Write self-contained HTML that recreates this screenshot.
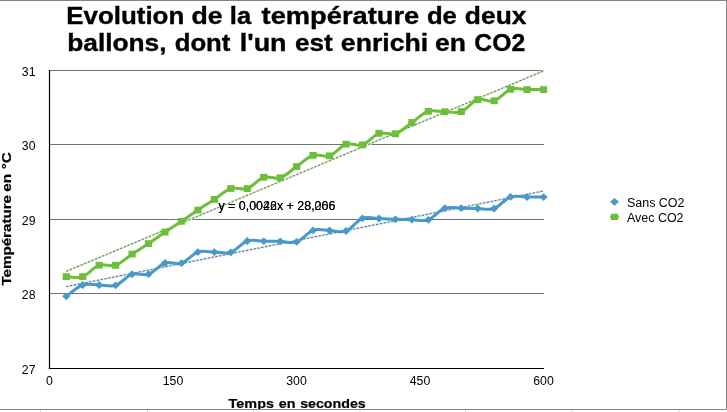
<!DOCTYPE html>
<html><head><meta charset="utf-8"><style>
html,body{margin:0;padding:0;background:#fff;width:727px;height:412px;overflow:hidden}
svg{display:block;font-family:"Liberation Sans",sans-serif;will-change:transform}
</style></head><body>
<svg width="727" height="412" viewBox="0 0 727 412">
<rect x="0" y="0" width="727" height="412" fill="#fff"/>
<line x1="49.5" y1="70.50" x2="544.0" y2="70.50" stroke="#727272" stroke-width="1"/>
<line x1="49.5" y1="144.50" x2="544.0" y2="144.50" stroke="#727272" stroke-width="1"/>
<line x1="49.5" y1="219.50" x2="544.0" y2="219.50" stroke="#727272" stroke-width="1"/>
<line x1="49.5" y1="293.50" x2="544.0" y2="293.50" stroke="#727272" stroke-width="1"/>
<line x1="49.5" y1="70" x2="49.5" y2="369" stroke="#000" stroke-width="1.2"/>
<line x1="48.9" y1="368.5" x2="544.0" y2="368.5" stroke="#000" stroke-width="1.2"/>
<line x1="66.26" y1="286.6" x2="543.55" y2="191.0" stroke="#dce9f3" stroke-width="2.4"/>
<line x1="66.26" y1="286.6" x2="543.55" y2="191.0" stroke="#34506c" stroke-width="0.85" stroke-dasharray="2.2,1.7"/>
<line x1="66.26" y1="271.4" x2="543.55" y2="70.9" stroke="#e0efd5" stroke-width="2.4"/>
<line x1="66.26" y1="271.4" x2="543.55" y2="70.9" stroke="#3d5530" stroke-width="0.85" stroke-dasharray="2.2,1.7"/>
<path d="M66.26,296.30 C69.00,294.42 77.23,286.88 82.72,285.00 C88.20,283.12 93.69,284.95 99.17,285.00 C104.66,285.05 110.15,287.10 115.63,285.30 C121.12,283.50 126.61,276.05 132.09,274.20 C137.58,272.35 143.06,276.07 148.55,274.20 C154.04,272.33 159.52,264.83 165.01,263.00 C170.49,261.17 175.98,265.02 181.47,263.20 C186.95,261.38 192.44,253.95 197.92,252.10 C203.41,250.25 208.90,252.07 214.38,252.10 C219.87,252.13 225.36,254.15 230.84,252.30 C236.33,250.45 241.81,242.85 247.30,241.00 C252.79,239.15 258.27,241.15 263.76,241.20 C269.24,241.25 274.73,241.20 280.22,241.30 C285.70,241.40 291.19,243.63 296.67,241.80 C302.16,239.97 307.65,232.18 313.13,230.30 C318.62,228.42 324.11,230.38 329.59,230.50 C335.08,230.62 340.56,233.03 346.05,231.00 C351.54,228.97 357.02,220.38 362.51,218.30 C367.99,216.22 373.48,218.33 378.97,218.50 C384.45,218.67 389.94,219.10 395.42,219.30 C400.91,219.50 406.40,219.62 411.88,219.70 C417.37,219.78 422.86,221.72 428.34,219.80 C433.83,217.88 439.31,210.13 444.80,208.20 C450.29,206.27 455.77,208.15 461.26,208.20 C466.74,208.25 472.23,208.45 477.72,208.50 C483.20,208.55 488.69,210.43 494.17,208.50 C499.66,206.57 505.15,198.80 510.63,196.90 C516.12,195.00 521.61,197.07 527.09,197.10 C532.58,197.13 540.81,197.10 543.55,197.10" fill="none" stroke="#4799ca" stroke-width="3" stroke-linejoin="round"/>
<path d="M66.26,276.60 C69.00,276.60 77.23,278.50 82.72,276.60 C88.20,274.70 93.69,267.08 99.17,265.20 C104.66,263.32 110.15,267.15 115.63,265.30 C121.12,263.45 126.61,257.72 132.09,254.10 C137.58,250.48 143.06,247.27 148.55,243.60 C154.04,239.93 159.52,235.82 165.01,232.10 C170.49,228.38 175.98,224.97 181.47,221.30 C186.95,217.63 192.44,213.75 197.92,210.10 C203.41,206.45 208.90,203.00 214.38,199.40 C219.87,195.80 225.36,190.30 230.84,188.50 C236.33,186.70 241.81,190.47 247.30,188.60 C252.79,186.73 258.27,179.10 263.76,177.30 C269.24,175.50 274.73,179.60 280.22,177.80 C285.70,176.00 291.19,170.25 296.67,166.50 C302.16,162.75 307.65,157.08 313.13,155.30 C318.62,153.52 324.11,157.65 329.59,155.80 C335.08,153.95 340.56,146.02 346.05,144.20 C351.54,142.38 357.02,146.72 362.51,144.90 C367.99,143.08 373.48,135.15 378.97,133.30 C384.45,131.45 389.94,135.60 395.42,133.80 C400.91,132.00 406.40,126.25 411.88,122.50 C417.37,118.75 422.86,113.10 428.34,111.30 C433.83,109.50 439.31,111.65 444.80,111.70 C450.29,111.75 455.77,113.62 461.26,111.60 C466.74,109.58 472.23,101.40 477.72,99.60 C483.20,97.80 488.69,102.52 494.17,100.80 C499.66,99.08 505.15,91.17 510.63,89.30 C516.12,87.43 521.61,89.55 527.09,89.60 C532.58,89.65 540.81,89.60 543.55,89.60" fill="none" stroke="#6dbe3a" stroke-width="3" stroke-linejoin="round"/>
<path d="M62.16,296.30 L66.26,292.40 L70.36,296.30 L66.26,300.20 Z" fill="#4799ca"/>
<path d="M78.62,285.00 L82.72,281.10 L86.82,285.00 L82.72,288.90 Z" fill="#4799ca"/>
<path d="M95.07,285.00 L99.17,281.10 L103.27,285.00 L99.17,288.90 Z" fill="#4799ca"/>
<path d="M111.53,285.30 L115.63,281.40 L119.73,285.30 L115.63,289.20 Z" fill="#4799ca"/>
<path d="M127.99,274.20 L132.09,270.30 L136.19,274.20 L132.09,278.10 Z" fill="#4799ca"/>
<path d="M144.45,274.20 L148.55,270.30 L152.65,274.20 L148.55,278.10 Z" fill="#4799ca"/>
<path d="M160.91,263.00 L165.01,259.10 L169.11,263.00 L165.01,266.90 Z" fill="#4799ca"/>
<path d="M177.37,263.20 L181.47,259.30 L185.57,263.20 L181.47,267.10 Z" fill="#4799ca"/>
<path d="M193.82,252.10 L197.92,248.20 L202.02,252.10 L197.92,256.00 Z" fill="#4799ca"/>
<path d="M210.28,252.10 L214.38,248.20 L218.48,252.10 L214.38,256.00 Z" fill="#4799ca"/>
<path d="M226.74,252.30 L230.84,248.40 L234.94,252.30 L230.84,256.20 Z" fill="#4799ca"/>
<path d="M243.20,241.00 L247.30,237.10 L251.40,241.00 L247.30,244.90 Z" fill="#4799ca"/>
<path d="M259.66,241.20 L263.76,237.30 L267.86,241.20 L263.76,245.10 Z" fill="#4799ca"/>
<path d="M276.12,241.30 L280.22,237.40 L284.32,241.30 L280.22,245.20 Z" fill="#4799ca"/>
<path d="M292.57,241.80 L296.67,237.90 L300.77,241.80 L296.67,245.70 Z" fill="#4799ca"/>
<path d="M309.03,230.30 L313.13,226.40 L317.23,230.30 L313.13,234.20 Z" fill="#4799ca"/>
<path d="M325.49,230.50 L329.59,226.60 L333.69,230.50 L329.59,234.40 Z" fill="#4799ca"/>
<path d="M341.95,231.00 L346.05,227.10 L350.15,231.00 L346.05,234.90 Z" fill="#4799ca"/>
<path d="M358.41,218.30 L362.51,214.40 L366.61,218.30 L362.51,222.20 Z" fill="#4799ca"/>
<path d="M374.87,218.50 L378.97,214.60 L383.07,218.50 L378.97,222.40 Z" fill="#4799ca"/>
<path d="M391.32,219.30 L395.42,215.40 L399.52,219.30 L395.42,223.20 Z" fill="#4799ca"/>
<path d="M407.78,219.70 L411.88,215.80 L415.98,219.70 L411.88,223.60 Z" fill="#4799ca"/>
<path d="M424.24,219.80 L428.34,215.90 L432.44,219.80 L428.34,223.70 Z" fill="#4799ca"/>
<path d="M440.70,208.20 L444.80,204.30 L448.90,208.20 L444.80,212.10 Z" fill="#4799ca"/>
<path d="M457.16,208.20 L461.26,204.30 L465.36,208.20 L461.26,212.10 Z" fill="#4799ca"/>
<path d="M473.62,208.50 L477.72,204.60 L481.82,208.50 L477.72,212.40 Z" fill="#4799ca"/>
<path d="M490.07,208.50 L494.17,204.60 L498.27,208.50 L494.17,212.40 Z" fill="#4799ca"/>
<path d="M506.53,196.90 L510.63,193.00 L514.73,196.90 L510.63,200.80 Z" fill="#4799ca"/>
<path d="M522.99,197.10 L527.09,193.20 L531.19,197.10 L527.09,201.00 Z" fill="#4799ca"/>
<path d="M539.45,197.10 L543.55,193.20 L547.65,197.10 L543.55,201.00 Z" fill="#4799ca"/>
<rect x="62.66" y="273.20" width="7.2" height="6.8" fill="#6dbe3a"/>
<rect x="79.12" y="273.20" width="7.2" height="6.8" fill="#6dbe3a"/>
<rect x="95.57" y="261.80" width="7.2" height="6.8" fill="#6dbe3a"/>
<rect x="112.03" y="261.90" width="7.2" height="6.8" fill="#6dbe3a"/>
<rect x="128.49" y="250.70" width="7.2" height="6.8" fill="#6dbe3a"/>
<rect x="144.95" y="240.20" width="7.2" height="6.8" fill="#6dbe3a"/>
<rect x="161.41" y="228.70" width="7.2" height="6.8" fill="#6dbe3a"/>
<rect x="177.87" y="217.90" width="7.2" height="6.8" fill="#6dbe3a"/>
<rect x="194.32" y="206.70" width="7.2" height="6.8" fill="#6dbe3a"/>
<rect x="210.78" y="196.00" width="7.2" height="6.8" fill="#6dbe3a"/>
<rect x="227.24" y="185.10" width="7.2" height="6.8" fill="#6dbe3a"/>
<rect x="243.70" y="185.20" width="7.2" height="6.8" fill="#6dbe3a"/>
<rect x="260.16" y="173.90" width="7.2" height="6.8" fill="#6dbe3a"/>
<rect x="276.62" y="174.40" width="7.2" height="6.8" fill="#6dbe3a"/>
<rect x="293.07" y="163.10" width="7.2" height="6.8" fill="#6dbe3a"/>
<rect x="309.53" y="151.90" width="7.2" height="6.8" fill="#6dbe3a"/>
<rect x="325.99" y="152.40" width="7.2" height="6.8" fill="#6dbe3a"/>
<rect x="342.45" y="140.80" width="7.2" height="6.8" fill="#6dbe3a"/>
<rect x="358.91" y="141.50" width="7.2" height="6.8" fill="#6dbe3a"/>
<rect x="375.37" y="129.90" width="7.2" height="6.8" fill="#6dbe3a"/>
<rect x="391.82" y="130.40" width="7.2" height="6.8" fill="#6dbe3a"/>
<rect x="408.28" y="119.10" width="7.2" height="6.8" fill="#6dbe3a"/>
<rect x="424.74" y="107.90" width="7.2" height="6.8" fill="#6dbe3a"/>
<rect x="441.20" y="108.30" width="7.2" height="6.8" fill="#6dbe3a"/>
<rect x="457.66" y="108.20" width="7.2" height="6.8" fill="#6dbe3a"/>
<rect x="474.12" y="96.20" width="7.2" height="6.8" fill="#6dbe3a"/>
<rect x="490.57" y="97.40" width="7.2" height="6.8" fill="#6dbe3a"/>
<rect x="507.03" y="85.90" width="7.2" height="6.8" fill="#6dbe3a"/>
<rect x="523.49" y="86.20" width="7.2" height="6.8" fill="#6dbe3a"/>
<rect x="539.95" y="86.20" width="7.2" height="6.8" fill="#6dbe3a"/>
<text x="218.4" y="209.6" font-size="12" textLength="117" lengthAdjust="spacingAndGlyphs"  fill="#000">y = 0,0022x + 28,066</text>
<text x="218.4" y="209.6" font-size="12" textLength="117" lengthAdjust="spacingAndGlyphs"  fill="#000">y = 0,0046x + 28,206</text>
<text x="35.5" y="75.80" font-size="12.3" text-anchor="end" fill="#000">31</text>
<text x="35.5" y="149.80" font-size="12.3" text-anchor="end" fill="#000">30</text>
<text x="35.5" y="224.80" font-size="12.3" text-anchor="end" fill="#000">29</text>
<text x="35.5" y="298.80" font-size="12.3" text-anchor="end" fill="#000">28</text>
<text x="35.5" y="373.80" font-size="12.3" text-anchor="end" fill="#000">27</text>
<text x="49.50" y="385" font-size="12.3" text-anchor="middle" fill="#000">0</text>
<text x="173.00" y="385" font-size="12.3" text-anchor="middle" fill="#000">150</text>
<text x="296.50" y="385" font-size="12.3" text-anchor="middle" fill="#000">300</text>
<text x="420.00" y="385" font-size="12.3" text-anchor="middle" fill="#000">450</text>
<text x="543.50" y="385" font-size="12.3" text-anchor="middle" fill="#000">600</text>
<text x="66.33" y="23.8" font-size="23.3" font-weight="bold" textLength="117.89" lengthAdjust="spacingAndGlyphs" fill="#000" stroke="#000" stroke-width="0.35">Evolution</text>
<text x="191.55" y="23.8" font-size="23.3" font-weight="bold" textLength="31.13" lengthAdjust="spacingAndGlyphs" fill="#000" stroke="#000" stroke-width="0.35">de</text>
<text x="229.86" y="23.8" font-size="23.3" font-weight="bold" textLength="21.3" lengthAdjust="spacingAndGlyphs" fill="#000" stroke="#000" stroke-width="0.35">la</text>
<text x="261.61" y="23.8" font-size="23.3" font-weight="bold" textLength="157.65" lengthAdjust="spacingAndGlyphs" fill="#000" stroke="#000" stroke-width="0.35">température</text>
<text x="426.9" y="23.8" font-size="23.3" font-weight="bold" textLength="29.96" lengthAdjust="spacingAndGlyphs" fill="#000" stroke="#000" stroke-width="0.35">de</text>
<text x="464.87" y="23.8" font-size="23.3" font-weight="bold" textLength="61.57" lengthAdjust="spacingAndGlyphs" fill="#000" stroke="#000" stroke-width="0.35">deux</text>
<text x="67.21" y="51.3" font-size="23.3" font-weight="bold" textLength="99.32" lengthAdjust="spacingAndGlyphs" fill="#000" stroke="#000" stroke-width="0.35">ballons,</text>
<text x="174.7" y="51.3" font-size="23.3" font-weight="bold" textLength="55.73" lengthAdjust="spacingAndGlyphs" fill="#000" stroke="#000" stroke-width="0.35">dont</text>
<text x="239.76" y="51.3" font-size="23.3" font-weight="bold" textLength="46.85" lengthAdjust="spacingAndGlyphs" fill="#000" stroke="#000" stroke-width="0.35">l&#39;un</text>
<text x="294.98" y="51.3" font-size="23.3" font-weight="bold" textLength="37.71" lengthAdjust="spacingAndGlyphs" fill="#000" stroke="#000" stroke-width="0.35">est</text>
<text x="340.86" y="51.3" font-size="23.3" font-weight="bold" textLength="87.42" lengthAdjust="spacingAndGlyphs" fill="#000" stroke="#000" stroke-width="0.35">enrichi</text>
<text x="435.06" y="51.3" font-size="23.3" font-weight="bold" textLength="30.98" lengthAdjust="spacingAndGlyphs" fill="#000" stroke="#000" stroke-width="0.35">en</text>
<text x="474.34" y="51.3" font-size="23.3" font-weight="bold" textLength="50.82" lengthAdjust="spacingAndGlyphs" fill="#000" stroke="#000" stroke-width="0.35">CO2</text>
<text x="228.6" y="407.85" font-size="13" font-weight="bold" textLength="45.39" lengthAdjust="spacingAndGlyphs" fill="#000" stroke="#000" stroke-width="0.2">Temps</text>
<text x="278.75" y="407.85" font-size="13" font-weight="bold" textLength="16.69" lengthAdjust="spacingAndGlyphs" fill="#000" stroke="#000" stroke-width="0.2">en</text>
<text x="300.15" y="407.85" font-size="13" font-weight="bold" textLength="65.58" lengthAdjust="spacingAndGlyphs" fill="#000" stroke="#000" stroke-width="0.2">secondes</text>
<g transform="translate(11,300) rotate(-90)">
<text x="14.4" y="0" font-size="13" font-weight="bold" textLength="90.64" lengthAdjust="spacingAndGlyphs" fill="#000" stroke="#000" stroke-width="0.2">Température</text>
<text x="108.31" y="0" font-size="13" font-weight="bold" textLength="17.88" lengthAdjust="spacingAndGlyphs" fill="#000" stroke="#000" stroke-width="0.2">en</text>
<text x="130.71" y="0" font-size="13" font-weight="bold" textLength="17.19" lengthAdjust="spacingAndGlyphs" fill="#000" stroke="#000" stroke-width="0.2">°C</text>
</g>
<path d="M610,201.8 L614.5,197.9 L619,201.8 L614.5,205.7 Z" fill="#4799ca"/>
<path d="M611,213.8 L618,213.8 L618.3,215.6 L619.2,216.8 L618.3,218 L618,219.9 L611,219.9 L610.7,218 L609.8,216.8 L610.7,215.6 Z" fill="#6dbe3a"/>
<text x="627" y="207.2" font-size="12" textLength="57.5" lengthAdjust="spacingAndGlyphs" fill="#000">Sans CO2</text>
<text x="627" y="221.9" font-size="12" textLength="56.5" lengthAdjust="spacingAndGlyphs" fill="#000">Avec CO2</text>
<line x1="0" y1="0.5" x2="727" y2="0.5" stroke="#838383" stroke-width="1"/>
<line x1="726.5" y1="0" x2="726.5" y2="410" stroke="#858585" stroke-width="1"/>
<rect x="0" y="410" width="727" height="2" fill="#fff"/>
<line x1="0" y1="409.5" x2="727" y2="409.5" stroke="#888" stroke-width="1"/>
<line x1="40.5" y1="410" x2="40.5" y2="412" stroke="#ccc" stroke-width="1"/>
<line x1="147.5" y1="410" x2="147.5" y2="412" stroke="#ccc" stroke-width="1"/>
<line x1="253.5" y1="410" x2="253.5" y2="412" stroke="#ccc" stroke-width="1"/>
<line x1="360" y1="410" x2="360" y2="412" stroke="#ccc" stroke-width="1"/>
<line x1="465.5" y1="410" x2="465.5" y2="412" stroke="#ccc" stroke-width="1"/>
<line x1="572" y1="410" x2="572" y2="412" stroke="#ccc" stroke-width="1"/>
<line x1="679" y1="410" x2="679" y2="412" stroke="#ccc" stroke-width="1"/>
</svg>
</body></html>
